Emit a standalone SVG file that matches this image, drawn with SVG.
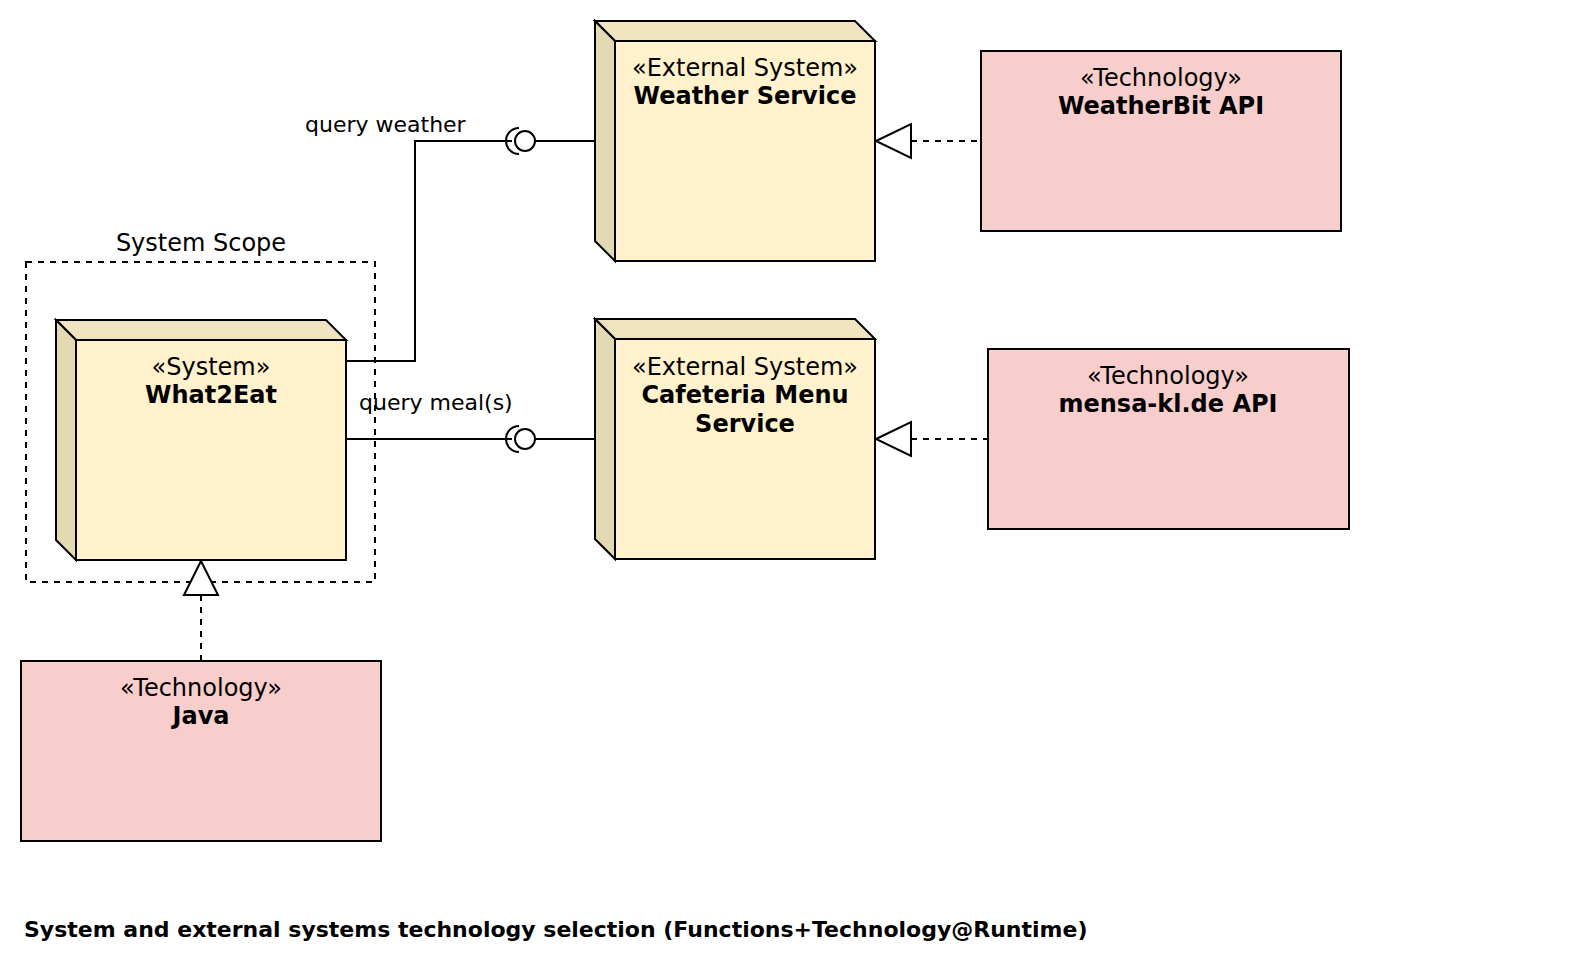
<svg xmlns="http://www.w3.org/2000/svg" width="1594" height="972" viewBox="0 0 1594 972">
<style>
text{font-family:"DejaVu Sans",Verdana,sans-serif;font-size:24px;fill:#000}
.b{font-weight:bold}
.c{text-anchor:middle}
.s{font-size:22px}
.ln{fill:none;stroke:#000;stroke-width:2}
.d{fill:none;stroke:#000;stroke-width:2;stroke-dasharray:6 6}
.front{fill:#fff2cc;stroke:#000;stroke-width:2}
.top{fill:#f0e4c0;stroke:#000;stroke-width:2}
.side{fill:#e3d9b3;stroke:#000;stroke-width:2}
.tech{fill:#f8cecc;stroke:#000;stroke-width:2}
.tri{fill:#fff;stroke:#000;stroke-width:2}
</style>
<rect width="1594" height="972" fill="#fff"/>
<g id="scope">
<rect x="26" y="262" width="349" height="320" class="d" stroke-dasharray="5 5"/>
<text x="201" y="251" class="c">System Scope</text>
</g>
<g id="what2eat">
<polygon class="top" points="56,320 326,320 346,340 76,340"/>
<polygon class="side" points="56,320 76,340 76,560 56,540"/>
<rect class="front" x="76" y="340" width="270" height="220"/>
<text x="211" y="375" class="c">«System»</text>
<text x="211" y="403" class="c b">What2Eat</text>
</g>
<g id="weather">
<polygon class="top" points="595,21 855,21 875,41 615,41"/>
<polygon class="side" points="595,21 615,41 615,261 595,241"/>
<rect class="front" x="615" y="41" width="260" height="220"/>
<text x="745" y="76" class="c">«External System»</text>
<text x="745" y="104" class="c b">Weather Service</text>
</g>
<g id="cafeteria">
<polygon class="top" points="595,319 855,319 875,339 615,339"/>
<polygon class="side" points="595,319 615,339 615,559 595,539"/>
<rect class="front" x="615" y="339" width="260" height="220"/>
<text x="745" y="375" class="c">«External System»</text>
<text x="745" y="403" class="c b">Cafeteria Menu</text>
<text x="745" y="432" class="c b">Service</text>
</g>
<g id="weatherbit">
<rect class="tech" x="981" y="51" width="360" height="180"/>
<text x="1161" y="86" class="c">«Technology»</text>
<text x="1161" y="114" class="c b">WeatherBit API</text>
</g>
<g id="mensa">
<rect class="tech" x="988" y="349" width="361" height="180"/>
<text x="1168" y="384" class="c">«Technology»</text>
<text x="1168" y="412" class="c b">mensa-kl.de API</text>
</g>
<g id="java">
<rect class="tech" x="21" y="661" width="360" height="180"/>
<text x="201" y="696" class="c">«Technology»</text>
<text x="201" y="724" class="c b">Java</text>
</g>
<g id="connectors">
<polyline class="ln" points="346,361 415,361 415,141 512,141"/>
<path class="ln" d="M 519,128 A 13 13 0 0 0 519,154"/>
<circle class="ln" cx="525" cy="141" r="10"/>
<line class="ln" x1="535" y1="141" x2="595" y2="141"/>
<line class="ln" x1="346" y1="439" x2="512" y2="439"/>
<path class="ln" d="M 519,426 A 13 13 0 0 0 519,452"/>
<circle class="ln" cx="525" cy="439" r="10"/>
<line class="ln" x1="535" y1="439" x2="595" y2="439"/>
<text x="305" y="132" class="s">query weather</text>
<text x="359" y="410" class="s">query meal(s)</text>
<line class="d" x1="911" y1="141" x2="981" y2="141"/>
<polygon class="tri" points="876,141 911,124 911,158"/>
<line class="d" x1="911" y1="439" x2="988" y2="439"/>
<polygon class="tri" points="876,439 911,422 911,456"/>
<line class="d" x1="201" y1="595" x2="201" y2="661"/>
<polygon class="tri" points="201,561 184,595 218,595"/>
</g>
<text x="24" y="937" class="b s">System and external systems technology selection (Functions+Technology@Runtime)</text>
</svg>
